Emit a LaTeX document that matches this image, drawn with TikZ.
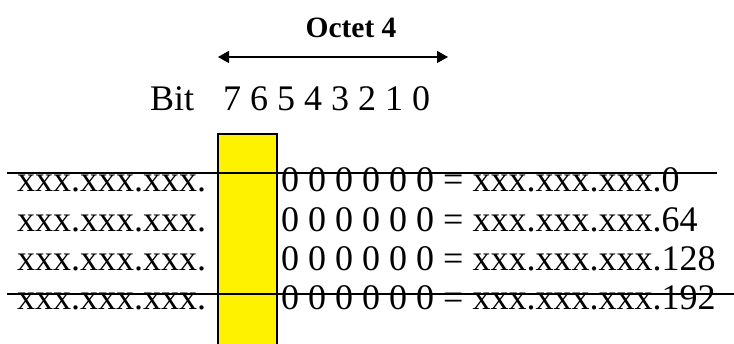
\documentclass[tikz,border=0pt]{standalone}
\usepackage{fontspec}
\setmainfont{Liberation Serif}
\usetikzlibrary{arrows.meta}
\tikzset{
  txt/.style={anchor=base west, inner sep=0pt, font=\fontsize{36}{40}\selectfont},
  ttl/.style={anchor=base, inner sep=0pt, font=\fontsize{29.5}{34}\selectfont\bfseries},
  strike/.style={line width=1.6pt},
  bitbox/.style={draw, line width=1.5pt, fill=yellow},
  dblarrow/.style={line width=1.4pt, {Triangle[length=11pt,width=12pt]}-{Triangle[length=11pt,width=12pt]}}
}
\begin{document}
\begin{tikzpicture}[x=1pt,y=-1pt]
\useasboundingbox (0,0) rectangle (734,343);
% title and arrow
\node[ttl] (oct) at (351,37) {Octet 4};
\coordinate (aL) at (218,57);
\coordinate (aR) at (448,57);
\draw[dblarrow] (aL) -- (aR);
% bit row
\node[txt] (bit) at (150,110) {Bit};
\node[txt] (bits) at (223,110) {7 6 5 4 3 2 1 0};
% yellow column
\draw[bitbox] (218,360) rectangle (277,134);
% rows
\node[txt] (l1) at (17,191) {xxx.xxx.xxx.};
\node[txt] (l2) at (17,231) {xxx.xxx.xxx.};
\node[txt] (l3) at (17,270) {xxx.xxx.xxx.};
\node[txt] (l4) at (17,309) {xxx.xxx.xxx.};
\node[txt] (r1) at (281,191) {0 0 0 0 0 0 = xxx.xxx.xxx.0};
\node[txt] (r2) at (281,231) {0 0 0 0 0 0 = xxx.xxx.xxx.64};
\node[txt] (r3) at (281,270) {0 0 0 0 0 0 = xxx.xxx.xxx.128};
\node[txt] (r4) at (281,309) {0 0 0 0 0 0 = xxx.xxx.xxx.192};
% strike lines
\coordinate (s1a) at (7,173);
\coordinate (s1b) at (717,173);
\coordinate (s2a) at (7,294);
\coordinate (s2b) at (734,294);
\draw[strike] (s1a) -- (s1b);
\draw[strike] (s2a) -- (s2b);
\end{tikzpicture}
\end{document}
